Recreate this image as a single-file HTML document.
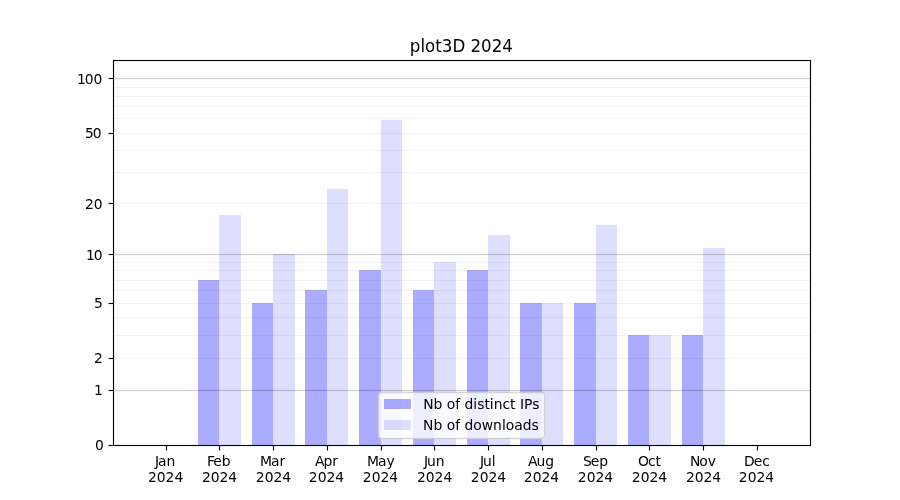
<!DOCTYPE html>
<html lang="en"><head><meta charset="utf-8"><title>plot3D 2024</title>
<style>
html,body{margin:0;padding:0;background:#fff;}
body{width:900px;height:500px;overflow:hidden;}
svg{display:block;}
text{font-family:"DejaVu Sans","Liberation Sans",sans-serif;fill:#000;}
.t{font-size:13.889px;}
.h{font-size:16.667px;}
</style></head><body>
<svg width="900" height="500" viewBox="0 0 900 500">
<rect x="0" y="0" width="900" height="500" fill="#fff"/>
<g shape-rendering="crispEdges">
<rect x="198" y="280" width="21" height="165" fill="#0000ff" fill-opacity="0.33"/>
<rect x="219" y="215" width="22" height="230" fill="#0000ff" fill-opacity="0.13"/>
<rect x="252" y="303" width="21" height="142" fill="#0000ff" fill-opacity="0.33"/>
<rect x="273" y="254" width="22" height="191" fill="#0000ff" fill-opacity="0.13"/>
<rect x="305" y="290" width="22" height="155" fill="#0000ff" fill-opacity="0.33"/>
<rect x="327" y="189" width="21" height="256" fill="#0000ff" fill-opacity="0.13"/>
<rect x="359" y="270" width="22" height="175" fill="#0000ff" fill-opacity="0.33"/>
<rect x="381" y="120" width="21" height="325" fill="#0000ff" fill-opacity="0.13"/>
<rect x="413" y="290" width="21" height="155" fill="#0000ff" fill-opacity="0.33"/>
<rect x="434" y="262" width="22" height="183" fill="#0000ff" fill-opacity="0.13"/>
<rect x="467" y="270" width="21" height="175" fill="#0000ff" fill-opacity="0.33"/>
<rect x="488" y="235" width="22" height="210" fill="#0000ff" fill-opacity="0.13"/>
<rect x="520" y="303" width="22" height="142" fill="#0000ff" fill-opacity="0.33"/>
<rect x="542" y="303" width="21" height="142" fill="#0000ff" fill-opacity="0.13"/>
<rect x="574" y="303" width="22" height="142" fill="#0000ff" fill-opacity="0.33"/>
<rect x="596" y="225" width="21" height="220" fill="#0000ff" fill-opacity="0.13"/>
<rect x="628" y="335" width="21" height="110" fill="#0000ff" fill-opacity="0.33"/>
<rect x="649" y="335" width="22" height="110" fill="#0000ff" fill-opacity="0.13"/>
<rect x="682" y="335" width="21" height="110" fill="#0000ff" fill-opacity="0.33"/>
<rect x="703" y="248" width="22" height="197" fill="#0000ff" fill-opacity="0.13"/>
</g>
<g fill="#000" shape-rendering="crispEdges">
<rect x="114" y="389" width="696" height="1" fill-opacity="0.0111"/>
<rect x="114" y="390" width="696" height="1" fill-opacity="0.2"/>
<rect x="114" y="391" width="696" height="1" fill-opacity="0.0111"/>
<rect x="114" y="253" width="696" height="1" fill-opacity="0.0111"/>
<rect x="114" y="254" width="696" height="1" fill-opacity="0.2"/>
<rect x="114" y="255" width="696" height="1" fill-opacity="0.0111"/>
<rect x="114" y="77" width="696" height="1" fill-opacity="0.0111"/>
<rect x="114" y="78" width="696" height="1" fill-opacity="0.2"/>
<rect x="114" y="79" width="696" height="1" fill-opacity="0.0111"/>
<rect x="114" y="358" width="696" height="1" fill-opacity="0.05"/>
<rect x="114" y="335" width="696" height="1" fill-opacity="0.05"/>
<rect x="114" y="317" width="696" height="1" fill-opacity="0.05"/>
<rect x="114" y="303" width="696" height="1" fill-opacity="0.05"/>
<rect x="114" y="290" width="696" height="1" fill-opacity="0.05"/>
<rect x="114" y="280" width="696" height="1" fill-opacity="0.05"/>
<rect x="114" y="270" width="696" height="1" fill-opacity="0.05"/>
<rect x="114" y="262" width="696" height="1" fill-opacity="0.05"/>
<rect x="114" y="203" width="696" height="1" fill-opacity="0.05"/>
<rect x="114" y="172" width="696" height="1" fill-opacity="0.05"/>
<rect x="114" y="150" width="696" height="1" fill-opacity="0.05"/>
<rect x="114" y="133" width="696" height="1" fill-opacity="0.05"/>
<rect x="114" y="118" width="696" height="1" fill-opacity="0.05"/>
<rect x="114" y="106" width="696" height="1" fill-opacity="0.05"/>
<rect x="114" y="96" width="696" height="1" fill-opacity="0.05"/>
<rect x="114" y="87" width="696" height="1" fill-opacity="0.05"/>
</g>
<g stroke="#000" stroke-width="1.111" fill="none">
<line x1="166.5" x2="166.5" y1="445.5" y2="450.5"/>
<line x1="219.5" x2="219.5" y1="445.5" y2="450.5"/>
<line x1="273.5" x2="273.5" y1="445.5" y2="450.5"/>
<line x1="327.5" x2="327.5" y1="445.5" y2="450.5"/>
<line x1="381.5" x2="381.5" y1="445.5" y2="450.5"/>
<line x1="434.5" x2="434.5" y1="445.5" y2="450.5"/>
<line x1="488.5" x2="488.5" y1="445.5" y2="450.5"/>
<line x1="542.5" x2="542.5" y1="445.5" y2="450.5"/>
<line x1="596.5" x2="596.5" y1="445.5" y2="450.5"/>
<line x1="649.5" x2="649.5" y1="445.5" y2="450.5"/>
<line x1="703.5" x2="703.5" y1="445.5" y2="450.5"/>
<line x1="757.5" x2="757.5" y1="445.5" y2="450.5"/>
<line x1="108.5" x2="113.5" y1="445.5" y2="445.5"/>
<line x1="108.5" x2="113.5" y1="390.5" y2="390.5"/>
<line x1="108.5" x2="113.5" y1="358.5" y2="358.5"/>
<line x1="108.5" x2="113.5" y1="303.5" y2="303.5"/>
<line x1="108.5" x2="113.5" y1="254.5" y2="254.5"/>
<line x1="108.5" x2="113.5" y1="203.5" y2="203.5"/>
<line x1="108.5" x2="113.5" y1="133.5" y2="133.5"/>
<line x1="108.5" x2="113.5" y1="78.5" y2="78.5"/>
<g stroke-linecap="square">
<line x1="113.5" y1="60.5" x2="113.5" y2="445.5"/>
<line x1="810.5" y1="60.5" x2="810.5" y2="445.5"/>
</g>
<g fill="#000" stroke="none">
<rect x="112.944" y="59" width="698.112" height="1" fill-opacity="0.0555"/>
<rect x="112.944" y="60" width="698.112" height="1"/>
<rect x="112.944" y="61" width="698.112" height="1" fill-opacity="0.0555"/>
<rect x="112.944" y="444" width="698.112" height="1" fill-opacity="0.0555"/>
<rect x="112.944" y="445" width="698.112" height="1"/>
<rect x="112.944" y="446" width="698.112" height="1" fill-opacity="0.0555"/>
</g>
</g>
<g class="t">
<text x="164.10" y="465.62" text-anchor="middle" dx="1 -1">Jan</text>
<text x="165.57" y="481.60" text-anchor="middle">2024</text>
<text x="217.71" y="465.50" text-anchor="middle" dx="1 -1">Feb</text>
<text x="219.56" y="481.62" text-anchor="middle">2024</text>
<text x="272.51" y="465.70" text-anchor="middle" dx="0 -1">Mar</text>
<text x="273.53" y="481.61" text-anchor="middle">2024</text>
<text x="325.43" y="465.50" text-anchor="middle" dx="1 -1">Apr</text>
<text x="326.48" y="481.58" text-anchor="middle">2024</text>
<text x="379.80" y="465.66" text-anchor="middle" dx="1 -1">May</text>
<text x="380.52" y="481.60" text-anchor="middle">2024</text>
<text x="433.24" y="465.54" text-anchor="middle" dx="1 -1">Jun</text>
<text x="434.58" y="481.59" text-anchor="middle">2024</text>
<text x="486.82" y="465.59" text-anchor="middle" dx="1 -1">Jul</text>
<text x="488.53" y="481.61" text-anchor="middle">2024</text>
<text x="540.04" y="465.62" text-anchor="middle" dx="1 -1">Aug</text>
<text x="541.47" y="481.60" text-anchor="middle">2024</text>
<text x="594.50" y="465.53" text-anchor="middle" dx="1 -1">Sep</text>
<text x="595.50" y="481.61" text-anchor="middle">2024</text>
<text x="648.47" y="465.72" text-anchor="middle" dx="1 -1">Oct</text>
<text x="649.53" y="481.59" text-anchor="middle">2024</text>
<text x="701.99" y="465.53" text-anchor="middle" dx="1 -1">Nov</text>
<text x="703.56" y="481.61" text-anchor="middle">2024</text>
<text x="755.90" y="465.71" text-anchor="middle" dx="1 -1">Dec</text>
<text x="756.51" y="481.61" text-anchor="middle">2024</text>
<text x="103.79" y="449.65" text-anchor="end">0</text>
<text x="102.81" y="394.57" text-anchor="end">1</text>
<text x="102.76" y="362.55" text-anchor="end">2</text>
<text x="102.76" y="307.70" text-anchor="end">5</text>
<text x="101.56" y="259.61" text-anchor="end" dx="1 -1">10</text>
<text x="102.59" y="208.71" text-anchor="end">20</text>
<text x="100.57" y="137.68" text-anchor="end" dx="1 -1">50</text>
<text x="101.36" y="83.72" text-anchor="end" dx="1 -1">100</text>
</g>
<text class="h" transform="translate(461.38,51.50) scale(1,1.083)" x="0" y="0" text-anchor="middle">plot3D 2024</text>
<rect x="378.5" y="392.5" width="166" height="46" rx="3" ry="3" fill="#fff" fill-opacity="0.8" stroke="#ccc" stroke-opacity="0.8" stroke-width="1.389"/>
<g shape-rendering="crispEdges">
<rect x="384" y="399" width="27" height="10" fill="#0000ff" fill-opacity="0.33"/>
<rect x="384" y="420" width="27" height="10" fill="#0000ff" fill-opacity="0.13"/>
</g>
<g class="t">
<text x="423.14" y="408.60">Nb of distinct IPs</text>
<text x="423.07" y="429.50">Nb of downloads</text>
</g>
</svg>
</body></html>
